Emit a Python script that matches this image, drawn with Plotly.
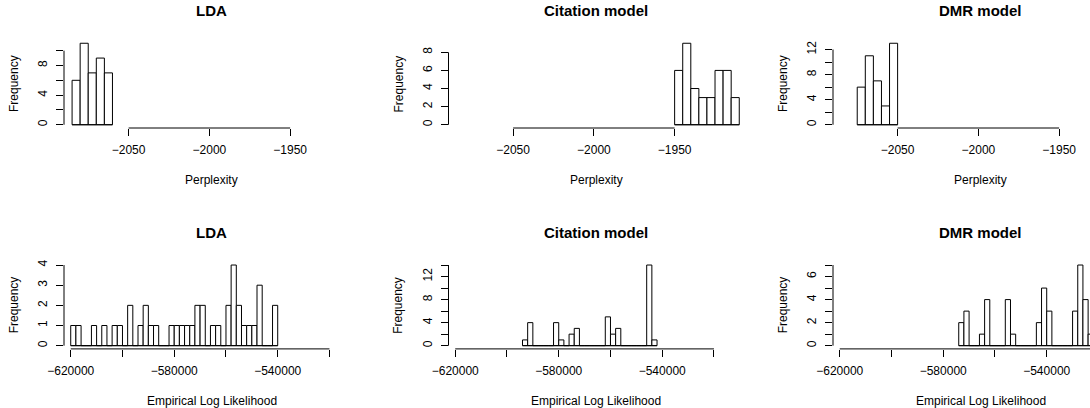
import plotly.graph_objects as go

# ---------------- data ----------------
models = ["LDA", "Citation model", "DMR model"]

perp_bin_width = 5
lda_perp_start = -2085
lda_perp_counts = [6, 11, 7, 9, 7]
cit_perp_start = -1950
cit_perp_counts = [6, 9, 4, 3, 3, 6, 6, 3]
dmr_perp_start = -2075
dmr_perp_counts = [6, 11, 7, 3, 13]

ll_bin_width = 2000
lda_ll_start = -620000
lda_ll_counts = [1, 1, 0, 0, 1, 0, 1, 0, 1, 1, 0, 2, 0, 1, 2, 1, 1, 0, 0, 1,
                 1, 1, 1, 1, 2, 2, 0, 1, 1, 0, 2, 4, 2, 1, 1, 1, 3, 0, 0, 2]
cit_ll_start = -594000
cit_ll_counts = [1, 4, 0, 0, 0, 0, 4, 1, 0, 2, 3, 0, 0, 0, 0, 0, 5, 2, 3, 0,
                 0, 0, 0, 0, 14, 1]
dmr_ll_start = -574000
dmr_ll_counts = [2, 3, 0, 0, 1, 4, 0, 0, 0, 4, 1, 0, 0, 0, 0, 2, 5, 3, 0, 0,
                 0, 0, 3, 7, 4, 1]

perp_xticks = [-2050, -2000, -1950]
perp_xticklabels = ["\u22122050", "\u22122000", "\u22121950"]
ll_xticks = [-620000, -600000, -580000, -560000, -540000, -520000]
ll_xticklabels = ["\u2212620000", "", "\u2212580000", "", "\u2212540000", ""]

perp_yticks = [[0, 2, 4, 6, 8, 10], [0, 2, 4, 6, 8], [0, 2, 4, 6, 8, 10, 12]]
perp_yticklabels = [["0", "", "4", "", "8", ""], ["0", "2", "4", "6", "8"],
                    ["0", "", "4", "", "8", "", "12"]]
ll_yticks = [[0, 1, 2, 3, 4], [0, 2, 4, 6, 8, 10, 12, 14], [0, 1, 2, 3, 4, 5, 6, 7]]
ll_yticklabels = [["0", "1", "2", "3", "4"], ["0", "", "4", "", "8", "", "12", ""],
                  ["0", "", "2", "", "4", "", "6", ""]]

perp_xrange = [-2090, -1907]
ll_xrange = [-622600, -508350]

x_titles = ["Perplexity", "Empirical Log Likelihood"]
y_title = "Frequency"

# ---------------- layout geometry (pixels) ----------------
W, H = 1090, 408
col_left = [64, 448.5, 833]
plot_w = 295.6
row_top = [40, 261.8]
row_h = [88, 87.1]

FONT = "Liberation Sans, Arial, Helvetica, sans-serif"

rows = [
    dict(starts=[lda_perp_start, cit_perp_start, dmr_perp_start],
         counts=[lda_perp_counts, cit_perp_counts, dmr_perp_counts],
         bw=perp_bin_width, xrange=perp_xrange, xticks=perp_xticks,
         xlabels=perp_xticklabels, yticks=perp_yticks, ylabels=perp_yticklabels,
         xtitle=x_titles[0]),
    dict(starts=[lda_ll_start, cit_ll_start, dmr_ll_start],
         counts=[lda_ll_counts, cit_ll_counts, dmr_ll_counts],
         bw=ll_bin_width, xrange=ll_xrange, xticks=ll_xticks,
         xlabels=ll_xticklabels, yticks=ll_yticks, ylabels=ll_yticklabels,
         xtitle=x_titles[1]),
]

fig = go.Figure()
layout = dict(template="none", width=W, height=H, autosize=False,
              margin=dict(l=0, r=0, t=0, b=0, pad=0, autoexpand=False),
              paper_bgcolor="white", plot_bgcolor="white", showlegend=False,
              font=dict(family=FONT, size=12, color="black"))
shapes = []
annotations = []

k = 0
for r, row in enumerate(rows):
    for c in range(3):
        k += 1
        xa = "x" if k == 1 else f"x{k}"
        ya = "y" if k == 1 else f"y{k}"
        xkey = "xaxis" if k == 1 else f"xaxis{k}"
        ykey = "yaxis" if k == 1 else f"yaxis{k}"

        counts = row["counts"][c]
        start = row["starts"][c]
        bw = row["bw"]
        centers = [start + bw * (i + 0.5) for i in range(len(counts))]
        fig.add_trace(go.Bar(x=centers, y=counts, width=bw, xaxis=xa, yaxis=ya,
                             marker=dict(color="white", line=dict(color="black", width=1))))
        # baseline of the histogram (zero-height bins are drawn as a line in R)
        edges = [start, start + bw * len(counts)]
        fig.add_trace(go.Scatter(x=edges, y=[0, 0], mode="lines", xaxis=xa, yaxis=ya,
                                 line=dict(color="black", width=1), hoverinfo="skip"))

        l = col_left[c]
        rgt = min(l + plot_w, W)
        vis = (rgt - l) / plot_w
        x0, x1 = row["xrange"]
        M = max(counts)
        top = row_top[r]
        h = row_h[r]

        layout[xkey] = dict(domain=[l / W, rgt / W], range=[x0, x0 + (x1 - x0) * vis],
                            anchor=ya, automargin=False,
                            showgrid=False, zeroline=False, showline=False,
                            ticks="outside", ticklen=7, tickwidth=1, tickcolor="black",
                            tickvals=row["xticks"], ticktext=row["xlabels"],
                            ticklabelstandoff=4,
                            tickfont=dict(size=12, family=FONT, color="black"))
        layout[ykey] = dict(domain=[(H - top - h) / H, (H - top) / H],
                            range=[-0.04 * M, 1.04 * M], anchor=xa, automargin=False,
                            showgrid=False, zeroline=False, showline=False,
                            ticks="outside", ticklen=7, tickwidth=1, tickcolor="black",
                            tickvals=row["yticks"][c], ticktext=row["ylabels"][c],
                            tickangle=-90, ticklabelstandoff=4,
                            tickfont=dict(size=12, family=FONT, color="black"))

        # R-style axis lines spanning first to last tick
        shapes.append(dict(type="line", xref=xa, yref=f"{ya} domain",
                           x0=row["xticks"][0], x1=row["xticks"][-1], y0=0, y1=0,
                           line=dict(color="black", width=1)))
        shapes.append(dict(type="line", xref=f"{xa} domain", yref=ya,
                           x0=0, x1=0, y0=row["yticks"][c][0], y1=row["yticks"][c][-1],
                           line=dict(color="black", width=1)))

        annotations.append(dict(text=f"<b>{models[c]}</b>", xref=f"{xa} domain",
                                yref=f"{ya} domain", x=0.5 / vis, y=1, yshift=29.5,
                                xanchor="center", yanchor="middle", showarrow=False,
                                font=dict(size=15, family=FONT, color="black")))
        annotations.append(dict(text=row["xtitle"], xref=f"{xa} domain",
                                yref=f"{ya} domain", x=0.5 / vis, y=0, yshift=-52,
                                xanchor="center", yanchor="middle", showarrow=False,
                                font=dict(size=12, family=FONT, color="black")))
        annotations.append(dict(text=y_title, xref=f"{xa} domain",
                                yref=f"{ya} domain", x=0, y=0.5, xshift=-50,
                                textangle=-90, xanchor="center", yanchor="middle",
                                showarrow=False,
                                font=dict(size=12, family=FONT, color="black")))

layout["shapes"] = shapes
layout["annotations"] = annotations
fig.update_layout(**layout)
fig.write_html("out.html",
               config={"displayModeBar": False, "staticPlot": True},
               post_script="document.body.style.margin='0';"
                           "document.body.style.overflow='hidden';")
